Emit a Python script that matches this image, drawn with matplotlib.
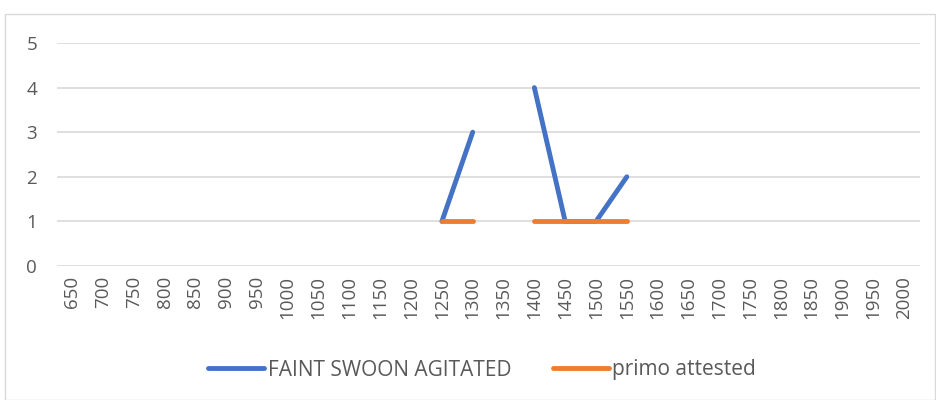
import numpy as np
import matplotlib
matplotlib.use("Agg")
import matplotlib.pyplot as plt
from matplotlib.patches import Rectangle

# category axis: years 650..2000 in steps of 50
years = [650, 700, 750, 800, 850, 900, 950, 1000, 1050, 1100, 1150, 1200,
         1250, 1300, 1350, 1400, 1450, 1500, 1550, 1600, 1650, 1700, 1750,
         1800, 1850, 1900, 1950, 2000]
nan = np.nan
faint_swoon = [nan] * 12 + [1, 3, nan, 4, 1, 1, 2] + [nan] * 9
primo_attested = [nan] * 12 + [1, 1, nan, 1, 1, 1, 1] + [nan] * 9

labels = ["FAINT SWOON AGITATED", "primo attested"]
colors = ["#4472C4", "#ED7D31"]

plt.rcParams["font.family"] = ["Open Sans", "DejaVu Sans"]

fig = plt.figure(figsize=(9.36, 4.0), dpi=100)
ax = fig.add_axes([0.0605, 0.335, 0.922, 0.5575])

# chart area frame
fig.patches.append(Rectangle((5 / 936, 0), 930 / 936, 1 - 14 / 400,
                             transform=fig.transFigure, fill=False,
                             edgecolor="#d9d9d9", linewidth=1))

x = np.arange(len(years))
for series, label, color in zip([faint_swoon, primo_attested], labels, colors):
    ax.plot(x, series, color=color, linewidth=3.5, solid_capstyle="round",
            label=label)

ax.set_xlim(-0.5, len(years) - 0.5)
ax.set_ylim(0, 5)
ax.set_xticks(x)
ax.set_xticklabels([str(y) for y in years], rotation=90)
ax.set_yticks(range(6))
ax.tick_params(axis="both", length=0, colors="#595959", labelsize=13.5)
ax.tick_params(axis="y", pad=14)
ax.tick_params(axis="x", pad=7)
ax.grid(axis="y", color="#d9d9d9", linewidth=1.2)
ax.set_axisbelow(True)
for spine in ax.spines.values():
    spine.set_visible(False)

leg = fig.legend(loc="center", bbox_to_anchor=(0.515, 0.075), ncol=2,
                 frameon=False, fontsize=15, handlelength=2.7,
                 handletextpad=0.15, columnspacing=2.0)
for text in leg.get_texts():
    text.set_color("#595959")

fig.savefig("out.png", dpi=100)
